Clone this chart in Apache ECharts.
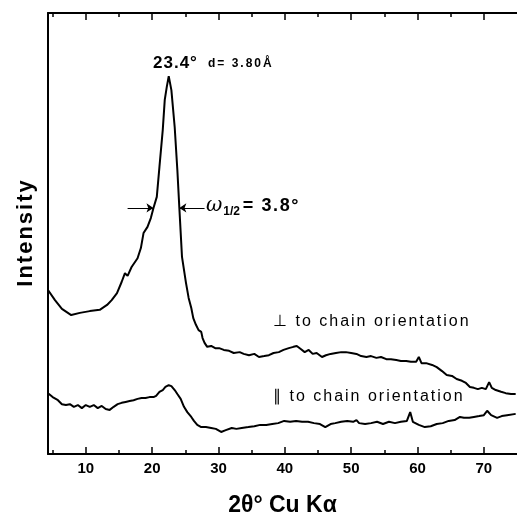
<!DOCTYPE html>
<html><head><meta charset="utf-8">
<script src="https://cdn.jsdelivr.net/npm/echarts@6/dist/echarts.min.js"></script>
<style>html,body{margin:0;padding:0;background:#fff}#c{width:517px;height:513px}</style>
</head><body><div id="c"></div>
<script>
// 2θ (deg) and relative intensity, ⊥ to chain orientation
const perpX = [4.3,5.35,6.4,7.8,9.1,10.6,12.1,13.2,13.9,14.7,15.4,15.9,16.3,16.9,17.8,18.3,18.7,19.3,19.8,20.2,20.7,21.1,21.6,21.9,22.2,22.5,22.9,23.4,23.8,24.1,24.5,25.1,25.5,25.9,26.2,26.6,27.0,27.4,27.6,27.9,28.3,28.9,29.5,30.1,30.8,31.6,32.3,33.2,33.8,34.6,35.4,36.1,36.9,37.6,38.3,39.1,39.8,40.6,41.3,41.8,42.4,43.0,43.6,44.2,44.8,45.6,46.2,46.9,47.7,48.5,49.2,50.0,50.8,51.5,52.3,53.0,53.8,54.5,55.3,56.0,56.8,57.5,58.3,59.0,59.8,60.2,60.6,61.3,62.2,62.9,63.7,64.4,65.2,65.9,66.7,67.3,67.9,68.5,69.1,69.7,70.3,70.8,71.2,71.8,72.6,73.3,74.1,74.8];
const perpY = [37.2,34.9,32.9,31.5,32.0,32.4,32.7,33.8,34.9,36.5,39.0,41.0,40.4,42.4,44.4,46.7,50.1,51.5,53.5,55.8,58.3,65.1,73.5,80.3,83.2,85.7,82.5,74.1,64.4,55.8,44.7,38.8,35.4,33.1,30.8,29.3,28.1,27.7,26.3,25.2,24.3,24.5,24.0,24.0,23.6,23.4,22.9,23.1,22.7,22.4,22.7,22.0,22.2,22.4,22.9,23.1,23.6,24.0,24.3,24.5,23.8,23.1,23.6,22.7,22.9,22.0,22.4,22.7,22.9,23.1,23.1,22.9,22.7,22.2,22.0,22.2,21.8,22.0,21.5,21.5,21.3,21.1,21.1,20.9,20.9,22.0,20.6,20.6,20.2,19.7,18.8,17.9,17.7,17.0,16.6,16.1,15.2,15.0,14.7,15.0,14.7,16.3,15.0,14.5,14.1,13.8,13.6,13.6];
// ∥ to chain orientation
const paraX = [4.3,5.0,5.8,6.4,7.0,7.6,8.2,8.8,9.4,10.0,10.6,11.2,11.8,12.4,13.0,13.6,14.2,14.8,15.4,16.0,16.6,17.2,17.8,18.4,19.0,19.6,20.2,20.6,21.1,21.6,22.0,22.5,22.9,23.4,23.8,24.3,24.8,25.3,25.9,26.3,26.8,27.4,28.1,28.9,29.6,30.4,31.1,32.0,32.7,33.5,34.5,35.4,36.3,37.2,38.1,39.0,39.9,40.8,41.7,42.6,43.5,44.4,45.3,46.1,46.9,47.6,48.5,49.4,50.3,50.8,51.2,52.1,53.0,53.9,54.8,55.7,56.6,57.5,58.4,58.9,59.3,60.2,61.1,62.0,62.9,63.8,64.7,65.6,66.4,67.0,67.8,68.5,69.3,70.0,70.5,71.1,72.0,72.7,73.5,74.8];
const paraY = [13.8,12.9,12.2,11.3,11.1,11.3,10.7,11.1,10.4,11.1,10.7,11.1,10.4,10.9,10.2,10.0,10.7,11.3,11.6,11.8,12.0,12.2,12.5,12.7,12.7,12.9,12.9,13.2,14.1,14.5,15.2,15.6,15.4,14.5,13.6,12.5,10.7,9.5,8.4,7.5,6.6,6.1,6.1,5.9,5.7,5.0,5.4,5.9,5.7,5.9,6.1,6.3,6.6,6.6,6.8,7.0,7.5,7.3,7.5,7.3,7.3,7.0,6.8,6.1,6.8,7.0,7.3,7.5,7.3,7.7,7.0,6.8,7.0,7.3,6.8,7.3,7.0,7.3,7.5,9.5,7.3,6.6,6.1,6.3,6.8,7.0,7.5,7.7,8.4,8.2,8.2,8.4,8.6,8.8,9.8,8.8,8.2,8.6,8.8,9.1];
const majorTicks = [10,20,30,40,50,60,70];
const minorTicks = [5,15,25,35,45,55,65];
const xMin = 4.3, xMax = 75;

const zip = (xs, ys) => xs.map((x, i) => [x, ys[i]]);
const FONT = '"Liberation Sans", Arial, sans-serif';
// letter-spaced text as rich tokens
const spaced = (s, tok) => Array.from(s).map(c => '{' + tok + '|' + c + '}').join('');
const chart = echarts.init(document.getElementById('c'), null, {renderer: 'canvas'});

const baseX = (pos, ticks, len, showLine) => ({
  type: 'value', position: pos, min: xMin, max: xMax,
  axisLine: {show: showLine, onZero: false, lineStyle: {color: '#000', width: 2}},
  axisTick: {show: true, inside: true, length: len, customValues: ticks, lineStyle: {color: '#000', width: 1.5}},
  axisLabel: {show: false}, splitLine: {show: false}
});

const xMain = baseX('bottom', majorTicks, 7, true);
xMain.axisLabel = {show: true, customValues: majorTicks, margin: 7, color: '#000',
  fontFamily: FONT, fontWeight: 'bold', fontSize: 15};
xMain.name = '2θ° Cu Kα';
xMain.nameLocation = 'middle';
xMain.nameGap = 40;
xMain.nameTextStyle = {color: '#000', fontFamily: FONT, fontWeight: 'bold', fontSize: 23};

chart.setOption({
  animation: false,
  backgroundColor: '#fff',
  grid: {left: 48, right: 0, top: 13, bottom: 59, containLabel: false, outerBoundsMode: 'none'},
  xAxis: [xMain, baseX('top', majorTicks, 7, true), baseX('bottom', minorTicks, 4, false), baseX('top', minorTicks, 4, false)],
  yAxis: {type: 'value', min: 0, max: 100,
    axisLine: {show: true, lineStyle: {color: '#000', width: 2}},
    axisTick: {show: false}, axisLabel: {show: false}, splitLine: {show: false},
    name: spaced('Intensity', 'i'), nameLocation: 'middle', nameGap: 11, nameRotate: 90,
    nameTextStyle: {color: '#000', fontFamily: FONT, fontWeight: 'bold', fontSize: 22,
      rich: {i: {fontFamily: FONT, fontWeight: 'bold', fontSize: 22, color: '#000', padding: [0, 1, 0, 1]}}}},
  series: [
    {type: 'line', data: zip(perpX, perpY), showSymbol: false, lineStyle: {color: '#000', width: 2}, z: 3,
     markLine: {silent: true, symbol: ['none', 'arrow'], symbolSize: 7, label: {show: false},
       lineStyle: {color: '#000', width: 1, type: 'solid'},
       data: [[{coord: [16.3, 55.8]}, {coord: [20.2, 55.8]}], [{coord: [27.9, 55.8]}, {coord: [24.1, 55.8]}]]}},
    {type: 'line', data: zip(paraX, paraY), showSymbol: false, lineStyle: {color: '#000', width: 2}, z: 3}
  ],
  graphic: [
    {type: 'text', left: 153, top: 55, style: {text: spaced('23.4°', 'a'),
      rich: {a: {fontFamily: FONT, fontWeight: 'bold', fontSize: 17, fill: '#000', padding: [0, 0.5, 0, 0.5]}}}},
    {type: 'text', left: 208, top: 58, style: {text: spaced('d= 3.80Å', 'b'),
      rich: {b: {fontFamily: FONT, fontWeight: 'bold', fontSize: 12, fill: '#000', padding: [0, 1, 0, 1]}}}},
    {type: 'text', left: 206, top: 196, style: {
      text: '{w|ω}{s|1/2}' + spaced('= 3.8°', 'e'),
      rich: {
        w: {fontFamily: '"DejaVu Serif", serif', fontStyle: 'italic', fontSize: 20, fill: '#000'},
        s: {fontFamily: FONT, fontWeight: 'bold', fontSize: 12, fill: '#000', padding: [12, 2, 0, 1]},
        e: {fontFamily: FONT, fontWeight: 'bold', fontSize: 18, fill: '#000', padding: [0, 0.8, 0, 0.8]}
      }}},
    {type: 'text', left: 273, top: 314, style: {text: spaced('⊥ to chain orientation', 't'),
      rich: {t: {fontFamily: FONT, fontSize: 16, fill: '#000', padding: [0, 1, 0, 1]}}}},
    {type: 'text', left: 273, top: 389, style: {text: spaced('∥ to chain orientation', 't'),
      rich: {t: {fontFamily: FONT, fontSize: 16, fill: '#000', padding: [0, 1, 0, 1]}}}}
  ]
});
</script>
</body></html>
